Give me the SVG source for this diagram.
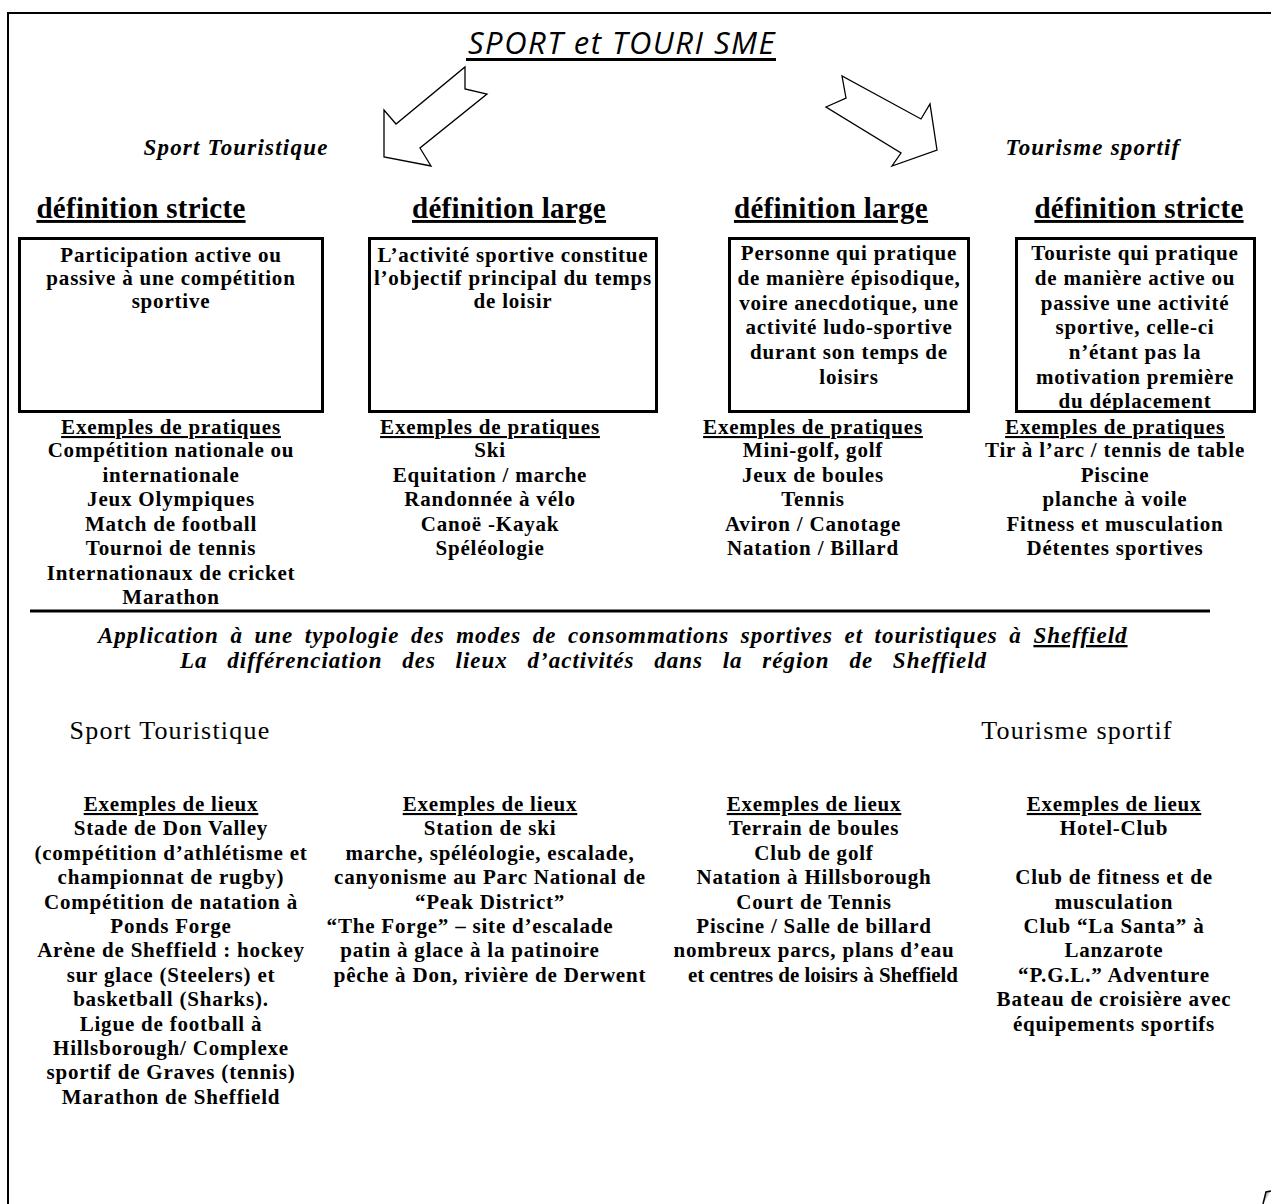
<svg xmlns="http://www.w3.org/2000/svg" width="1271" height="1204" viewBox="0 0 1271 1204">
<style>
.b{font-family:"Liberation Serif","Times New Roman",serif;font-weight:bold;font-size:21px;letter-spacing:0.8px;fill:#000;text-anchor:middle}
.h{font-family:"Liberation Serif","Times New Roman",serif;font-weight:bold;font-size:29px;letter-spacing:0.3px;fill:#000;text-anchor:middle;text-decoration:underline}
.ex{text-decoration:underline}
.bi{font-family:"Liberation Serif","Times New Roman",serif;font-weight:bold;font-style:italic;font-size:23px;letter-spacing:1.2px;fill:#000;text-anchor:middle}
.ap{font-family:"Liberation Serif","Times New Roman",serif;font-weight:bold;font-style:italic;font-size:23px;letter-spacing:1px;fill:#000}
.r{font-family:"Liberation Serif","Times New Roman",serif;font-size:26px;letter-spacing:1.2px;fill:#000;text-anchor:middle}
.box{fill:none;stroke:#000;stroke-width:3}
.arr{fill:#fff;stroke:#000;stroke-width:1.3;stroke-linejoin:miter}
</style>
<rect width="1271" height="1204" fill="#fff"/>
<g id="frame">
<path d="M8,1204 V13 H1271" fill="none" stroke="#000" stroke-width="2"/>
<path d="M1263,1204 L1266,1192 L1271,1191" fill="#ccc" stroke="#000" stroke-width="1.5"/>
</g>
<g id="title">
<text x="622" y="54" font-family="'Open Sans','Noto Sans',sans-serif" font-style="italic" font-size="31" letter-spacing="1.5" text-anchor="middle">SPORT et TOURI SME</text>
<line x1="466" y1="59.5" x2="776" y2="59.5" stroke="#000" stroke-width="3"/>
</g>
<g id="connectors">
<polygon class="arr" points="465,67 465,89 487,94 420,148 431,166 384,157 384,110 396,124"/>
<polygon class="arr" points="842,76 846,98 826,107 901,153 892,166 937,150 930,104 921,119"/>
</g>
<g id="label-sport-touristique"><text class="bi" x="236" y="155">Sport Touristique</text></g>
<g id="label-tourisme-sportif"><text class="bi" x="1093" y="155">Tourisme sportif</text></g>

<g id="col1-def">
<text class="h" x="141" y="218">définition stricte</text>
<rect class="box" x="19.5" y="238.5" width="303" height="173"/>
<text class="b" x="171" y="262">Participation active ou</text>
<text class="b" x="171" y="285">passive à une compétition</text>
<text class="b" x="171" y="308">sportive</text>
</g>
<g id="col2-def">
<text class="h" x="509" y="218">définition large</text>
<rect class="box" x="369.5" y="238.5" width="287" height="173"/>
<text class="b" x="513" y="262">L’activité sportive constitue</text>
<text class="b" x="513" y="285">l’objectif principal du temps</text>
<text class="b" x="513" y="308">de loisir</text>
</g>
<g id="col3-def">
<text class="h" x="831" y="218">définition large</text>
<rect class="box" x="729.5" y="238.5" width="239" height="173"/>
<text class="b" x="849" y="260">Personne qui pratique</text>
<text class="b" x="849" y="285">de manière épisodique,</text>
<text class="b" x="849" y="310">voire anecdotique, une</text>
<text class="b" x="849" y="334">activité ludo-sportive</text>
<text class="b" x="849" y="359">durant son temps de</text>
<text class="b" x="849" y="384">loisirs</text>
</g>
<g id="col4-def">
<text class="h" x="1139" y="218">définition stricte</text>
<rect class="box" x="1016.5" y="238.5" width="238" height="173"/>
<text class="b" x="1135" y="260">Touriste qui pratique</text>
<text class="b" x="1135" y="285">de manière active ou</text>
<text class="b" x="1135" y="310">passive une activité</text>
<text class="b" x="1135" y="334">sportive, celle-ci</text>
<text class="b" x="1135" y="359">n’étant pas la</text>
<text class="b" x="1135" y="384">motivation première</text>
<text class="b" x="1135" y="408">du déplacement</text>
</g>

<g id="col1-pratiques">
<text class="b ex" x="171" y="434">Exemples de pratiques</text>
<text class="b" x="171" y="457">Compétition nationale ou</text>
<text class="b" x="171" y="482">internationale</text>
<text class="b" x="171" y="506">Jeux Olympiques</text>
<text class="b" x="171" y="531">Match de football</text>
<text class="b" x="171" y="555">Tournoi de tennis</text>
<text class="b" x="171" y="580">Internationaux de cricket</text>
<text class="b" x="171" y="604">Marathon</text>
</g>
<g id="col2-pratiques">
<text class="b ex" x="490" y="434">Exemples de pratiques</text>
<text class="b" x="490" y="457">Ski</text>
<text class="b" x="490" y="482">Equitation / marche</text>
<text class="b" x="490" y="506">Randonnée à vélo</text>
<text class="b" x="490" y="531">Canoë -Kayak</text>
<text class="b" x="490" y="555">Spéléologie</text>
</g>
<g id="col3-pratiques">
<text class="b ex" x="813" y="434">Exemples de pratiques</text>
<text class="b" x="813" y="457">Mini-golf, golf</text>
<text class="b" x="813" y="482">Jeux de boules</text>
<text class="b" x="813" y="506">Tennis</text>
<text class="b" x="813" y="531">Aviron / Canotage</text>
<text class="b" x="813" y="555">Natation / Billard</text>
</g>
<g id="col4-pratiques">
<text class="b ex" x="1115" y="434">Exemples de pratiques</text>
<text class="b" x="1115" y="457">Tir à l’arc / tennis de table</text>
<text class="b" x="1115" y="482">Piscine</text>
<text class="b" x="1115" y="506">planche à voile</text>
<text class="b" x="1115" y="531">Fitness et musculation</text>
<text class="b" x="1115" y="555">Détentes sportives</text>
</g>

<g id="separator"><line x1="30" y1="611" x2="1210" y2="611" stroke="#000" stroke-width="3"/></g>

<g id="application">
<text class="ap" x="98" y="643" word-spacing="4.8">Application à une typologie des modes de consommations sportives et touristiques à <tspan text-decoration="underline">Sheffield</tspan></text>
<text class="ap" x="180" y="668" word-spacing="13">La différenciation des lieux d’activités dans la région de Sheffield</text>
</g>

<g id="label2-sport-touristique"><text class="r" x="170" y="739">Sport Touristique</text></g>
<g id="label2-tourisme-sportif"><text class="r" x="1077" y="739">Tourisme sportif</text></g>

<g id="col1-lieux">
<text class="b ex" x="171" y="811">Exemples de lieux</text>
<text class="b" x="171" y="835">Stade de Don Valley</text>
<text class="b" x="171" y="860">(compétition d’athlétisme et</text>
<text class="b" x="171" y="884">championnat de rugby)</text>
<text class="b" x="171" y="909">Compétition de natation à</text>
<text class="b" x="171" y="933">Ponds Forge</text>
<text class="b" x="171" y="957">Arène de Sheffield : hockey</text>
<text class="b" x="171" y="982">sur glace (Steelers) et</text>
<text class="b" x="171" y="1006">basketball (Sharks).</text>
<text class="b" x="171" y="1031">Ligue de football à</text>
<text class="b" x="171" y="1055">Hillsborough/ Complexe</text>
<text class="b" x="171" y="1079">sportif de Graves (tennis)</text>
<text class="b" x="171" y="1104">Marathon de Sheffield</text>
</g>
<g id="col2-lieux">
<text class="b ex" x="490" y="811">Exemples de lieux</text>
<text class="b" x="490" y="835">Station de ski</text>
<text class="b" x="490" y="860">marche, spéléologie, escalade,</text>
<text class="b" x="490" y="884">canyonisme au Parc National de</text>
<text class="b" x="490" y="909">“Peak District”</text>
<text class="b" x="470" y="933">“The Forge” – site d’escalade</text>
<text class="b" x="470" y="957">patin à glace à la patinoire</text>
<text class="b" x="490" y="982">pêche à Don, rivière de Derwent</text>
</g>
<g id="col3-lieux">
<text class="b ex" x="814" y="811">Exemples de lieux</text>
<text class="b" x="814" y="835">Terrain de boules</text>
<text class="b" x="814" y="860">Club de golf</text>
<text class="b" x="814" y="884">Natation à Hillsborough</text>
<text class="b" x="814" y="909">Court de Tennis</text>
<text class="b" x="814" y="933">Piscine / Salle de billard</text>
<text class="b" x="814" y="957">nombreux parcs, plans d’eau</text>
<text class="b" x="688" y="982" style="text-anchor:start;letter-spacing:0" textLength="270" lengthAdjust="spacingAndGlyphs">et centres de loisirs à Sheffield</text>
</g>
<g id="col4-lieux">
<text class="b ex" x="1114" y="811">Exemples de lieux</text>
<text class="b" x="1114" y="835">Hotel-Club</text>
<text class="b" x="1114" y="884">Club de fitness et de</text>
<text class="b" x="1114" y="909">musculation</text>
<text class="b" x="1114" y="933">Club “La Santa” à</text>
<text class="b" x="1114" y="957">Lanzarote</text>
<text class="b" x="1114" y="982">“P.G.L.” Adventure</text>
<text class="b" x="1114" y="1006">Bateau de croisière avec</text>
<text class="b" x="1114" y="1031">équipements sportifs</text>
</g>
</svg>
